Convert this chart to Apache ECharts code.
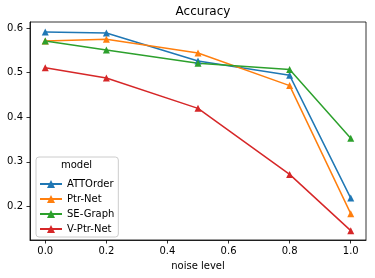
<!DOCTYPE html>
<html>
<head>
<meta charset="utf-8">
<script src="https://cdn.jsdelivr.net/npm/echarts@6/dist/echarts.min.js"></script>
<style>html,body{margin:0;padding:0;background:#fff}#c{width:375px;height:278px}</style>
</head>
<body>
<div id="c"></div>
<script>
const noiseLevels = [0.0, 0.2, 0.5, 0.8, 1.0];
const attOrder = [0.591, 0.589, 0.526, 0.494, 0.219];
const ptrNet = [0.571, 0.575, 0.544, 0.471, 0.184];
const seGraph = [0.571, 0.551, 0.521, 0.507, 0.353];
const vPtrNet = [0.511, 0.488, 0.420, 0.272, 0.146];
const xTicks = [0.0, 0.2, 0.4, 0.6, 0.8, 1.0];
const yTicks = [0.2, 0.3, 0.4, 0.5, 0.6];
const seriesNames = ['ATTOrder', 'Ptr-Net', 'SE-Graph', 'V-Ptr-Net'];
const seriesValues = [attOrder, ptrNet, seGraph, vPtrNet];
const colors = ['#1f77b4', '#ff7f0e', '#2ca02c', '#d62728'];

const font = 'DejaVu Sans';
const chart = echarts.init(document.getElementById('c'), null, {renderer: 'canvas'});
const series = seriesNames.map((name, i) => ({
  name: name,
  type: 'line',
  data: noiseLevels.map((x, j) => [x, seriesValues[i][j]]),
  symbol: 'triangle',
  symbolSize: 7,
  showSymbol: true,
  lineStyle: {width: 1.5, color: colors[i]},
  itemStyle: {color: colors[i]},
  emphasis: {disabled: true},
  animation: false
}));

chart.setOption({
  animation: false,
  color: colors,
  textStyle: {fontFamily: font},
  title: {
    text: 'Accuracy',
    left: 198,
    top: 1,
    textAlign: 'center',
    textStyle: {fontFamily: font, fontSize: 12, fontWeight: 'normal', color: '#000'}
  },
  grid: {left: 30, right: 9, top: 22, bottom: 38, show: true, borderColor: '#000', borderWidth: 0.8, backgroundColor: 'transparent'},
  xAxis: {
    type: 'value',
    min: -0.05,
    max: 1.05,
    name: 'noise level',
    nameLocation: 'middle',
    nameGap: 21,
    nameTextStyle: {fontFamily: font, fontSize: 10, color: '#000'},
    axisLine: {show: true, onZero: false, lineStyle: {color: '#000', width: 0.8}},
    axisTick: {show: true, inside: false, length: 3.5, customValues: xTicks, lineStyle: {color: '#000', width: 0.8}},
    axisLabel: {customValues: xTicks, margin: 6, fontFamily: font, fontSize: 10, color: '#000', formatter: v => v.toFixed(1)},
    splitLine: {show: false}
  },
  yAxis: {
    type: 'value',
    min: 0.125,
    max: 0.6135,
    axisLine: {show: true, onZero: false, lineStyle: {color: '#000', width: 0.8}},
    axisTick: {show: true, inside: false, length: 3.5, customValues: yTicks, lineStyle: {color: '#000', width: 0.8}},
    axisLabel: {customValues: yTicks, margin: 7, fontFamily: font, fontSize: 10, color: '#000', formatter: v => v.toFixed(1)},
    splitLine: {show: false}
  },
  legend: {
    orient: 'vertical',
    left: 36,
    top: 157,
    padding: [22, 4, 3, 3],
    itemGap: 5,
    itemWidth: 22,
    itemHeight: 10,
    backgroundColor: 'rgba(255,255,255,0.8)',
    borderColor: '#cccccc',
    borderWidth: 1,
    borderRadius: 3,
    textStyle: {fontFamily: font, fontSize: 10, color: '#000'},
    data: seriesNames
  },
  graphic: [{
    type: 'text',
    left: 61,
    top: 160,
    z: 100,
    style: {text: 'model', fontFamily: font, fontSize: 10, fill: '#000'}
  }],
  series: series
});
</script>
</body>
</html>
